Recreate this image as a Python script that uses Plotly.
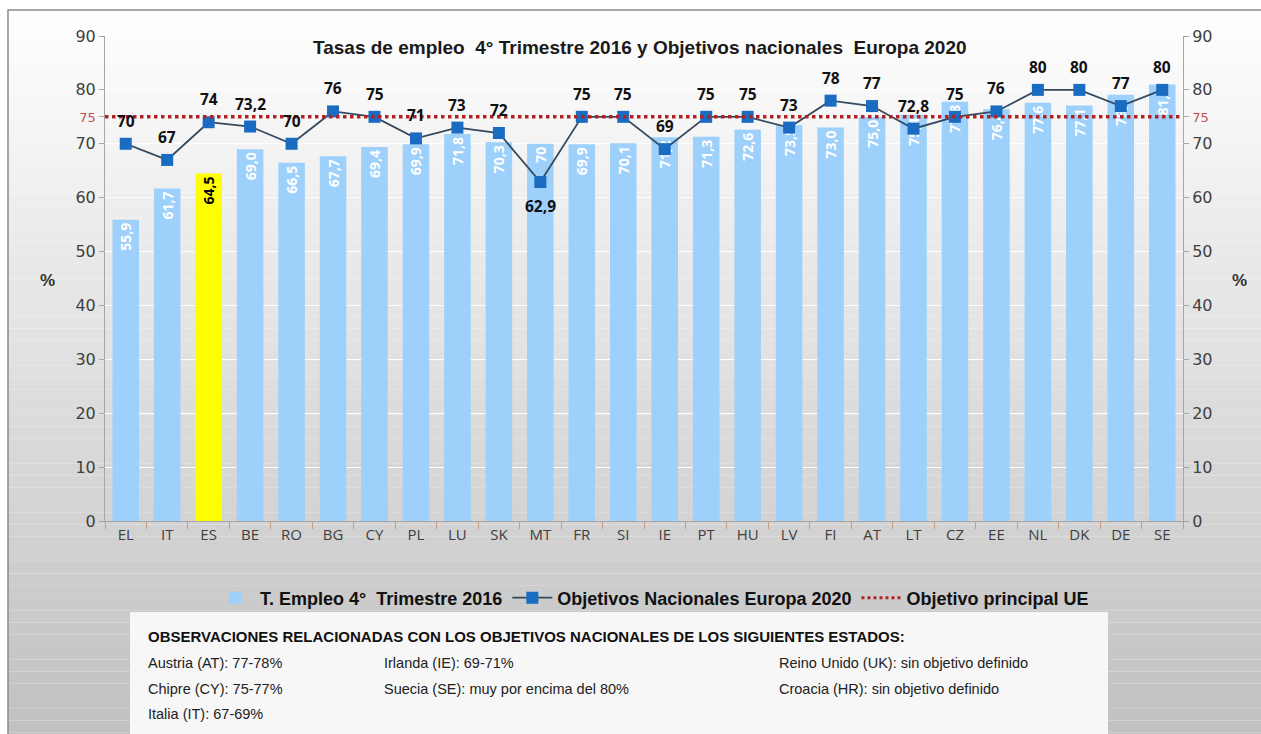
import plotly.graph_objects as go

# ---------------- data ----------------
countries = ["EL", "IT", "ES", "BE", "RO", "BG", "CY", "PL", "LU", "SK", "MT", "FR", "SI",
             "IE", "PT", "HU", "LV", "FI", "AT", "LT", "CZ", "EE", "NL", "DK", "DE", "SE"]
empleo_2016 = [55.9, 61.7, 64.5, 69.0, 66.5, 67.7, 69.4, 69.9, 71.8, 70.3, 70.0, 69.9, 70.1,
               71.2, 71.3, 72.6, 73.5, 73.0, 75.0, 75.4, 77.8, 76.4, 77.6, 77.1, 79.1, 81.0]
objetivos_2020 = [70, 67, 74, 73.2, 70, 76, 75, 71, 73, 72, 62.9, 75, 75,
                  69, 75, 75, 73, 78, 77, 72.8, 75, 76, 80, 80, 77, 80]
objetivo_ue = 75
highlight = "ES"
y_ticks = [0, 10, 20, 30, 40, 50, 60, 70, 75, 80, 90]

title = "Tasas de empleo  4° Trimestre 2016 y Objetivos nacionales  Europa 2020"
obs_header = "OBSERVACIONES RELACIONADAS CON LOS OBJETIVOS NACIONALES DE LOS SIGUIENTES ESTADOS:"
obs_col1 = ["Austria (AT): 77-78%", "Chipre (CY): 75-77%", "Italia (IT): 67-69%"]
obs_col2 = ["Irlanda (IE): 69-71%", "Suecia (SE): muy por encima del 80%"]
obs_col3 = ["Reino Unido (UK): sin objetivo definido", "Croacia (HR): sin objetivo definido"]

# ---------------- styling ----------------
W, H = 1261, 734
L, R, T, B = 105, 78, 36, 213
PW, PH = W - L - R, H - T - B
BAR_BLUE = "#9dd0fa"
YELLOW = "#ffff00"
RED = "#b22222"
TICK_GRAY = "#404040"
NARROW = "Liberation Sans Narrow, Arial Narrow, Liberation Sans, sans-serif"


def px_x(px):
    return (px - L) / PW


def px_y(py):
    return (H - B - py) / PH


def comma(v, fmt):
    return format(v, fmt).replace(".", ",")


bar_text = [comma(v, ".1f") for v in empleo_2016]
bar_text[countries.index("MT")] = comma(empleo_2016[countries.index("MT")], "g")
bar_colors = [YELLOW if c == highlight else BAR_BLUE for c in countries]
bar_text_colors = ["black" if c == highlight else "white" for c in countries]

fig = go.Figure()

fig.add_trace(go.Bar(
    x=countries, y=empleo_2016, name="<b>T. Empleo 4°  Trimestre 2016</b>",
    marker=dict(color=bar_colors, line=dict(width=0)),
    width=0.64,
    text=bar_text, texttemplate="<b>%{text}</b>",
    textposition="inside", insidetextanchor="end", textangle=-90,
    constraintext="none",
    textfont=dict(color=bar_text_colors, size=14, family="Open Sans, sans-serif"),
    hoverinfo="skip",
))

fig.add_trace(go.Scatter(
    x=countries, y=objetivos_2020, name="<b>Objetivos Nacionales Europa 2020</b>",
    mode="lines+markers",
    line=dict(color="#34495e", width=1.8),
    marker=dict(symbol="square", size=12, color="#1a6bc2"),
))

# legend-only entry for the EU target line
fig.add_trace(go.Scatter(
    x=[None], y=[None], name="<b>Objetivo principal UE</b>", mode="lines",
    line=dict(color=RED, width=3, dash="dot"),
))

# right axis (mirrors left)
fig.add_trace(go.Scatter(x=countries, y=objetivos_2020, yaxis="y2", mode="lines",
                         line=dict(width=0), showlegend=False, hoverinfo="skip", opacity=0))

annotations = []
# line labels
for c, v in zip(countries, objetivos_2020):
    below = v < 65
    annotations.append(dict(x=c, y=v, xref="x", yref="y", text=f"<b>{comma(v, 'g')}</b>",
                            showarrow=False, yshift=-24 if below else 23,
                            font=dict(size=15.5, color="#111111", family="Open Sans, sans-serif")))

# ---------------- background shapes ----------------
shapes = []
top_py, bot_py = 10, 745
n = 60
for i in range(n):
    y0p = top_py + (bot_py - top_py) * i / n
    y1p = top_py + (bot_py - top_py) * (i + 1) / n
    g = int(round(255 - 64 * (i + 0.5) / n))
    shapes.append(dict(type="rect", xref="paper", yref="paper", layer="below",
                       x0=px_x(8), x1=px_x(1275), y0=px_y(y1p), y1=px_y(y0p),
                       fillcolor=f"rgb({g},{g},{g})", line=dict(width=0)))
shapes.append(dict(type="rect", xref="paper", yref="paper", layer="below",
                   x0=px_x(8), x1=px_x(1275), y0=px_y(760), y1=px_y(10),
                   fillcolor="rgba(0,0,0,0)", line=dict(color="#8a8a8a", width=1.5)))
# observations box
shapes.append(dict(type="rect", xref="paper", yref="paper", layer="above",
                   x0=px_x(130), x1=px_x(1108), y0=px_y(760), y1=px_y(612),
                   fillcolor="#f7f7f7", line=dict(width=0)))
# EU target dotted line
shapes.append(dict(type="line", xref="paper", yref="y", layer="above",
                   x0=0, x1=1, y0=objetivo_ue, y1=objetivo_ue,
                   line=dict(color=RED, width=3.5, dash="dot")))

annotations += [
    dict(x=px_x(640), y=px_y(47), xref="paper", yref="paper", yanchor="middle",
         text=f"<b>{title}</b>", showarrow=False,
         font=dict(size=19, color="#1a1a1a", family="Liberation Sans, Arial, sans-serif")),
    dict(x=px_x(38), y=px_y(280), xref="paper", yref="paper", yanchor="middle",
         text="<b>%</b>", showarrow=False,
         font=dict(size=17, color="#333333", family="Liberation Sans, Arial, sans-serif")),
    dict(x=px_x(1249), y=px_y(280), xref="paper", yref="paper", yanchor="middle",
         text="<b>%</b>", showarrow=False,
         font=dict(size=17, color="#333333", family="Liberation Sans, Arial, sans-serif")),
    dict(x=px_x(146), y=px_y(636), xref="paper", yref="paper", xanchor="left", yanchor="middle",
         text=f"<b>{obs_header}</b>", showarrow=False,
         font=dict(size=15, color="#111111", family=NARROW)),
]
row_py = [663, 689, 714]
for col_px, col in [(146, obs_col1), (382, obs_col2), (777, obs_col3)]:
    for j, t in enumerate(col):
        annotations.append(dict(x=px_x(col_px), y=px_y(row_py[j]), xref="paper", yref="paper",
                                xanchor="left", yanchor="middle", text=t, showarrow=False,
                                font=dict(size=14.5, color="#222222", family=NARROW)))

tick_text = [f"<span style='color:#c0504d;font-size:13px'>{v}</span>" if v == objetivo_ue else str(v)
             for v in y_ticks]

yaxis_common = dict(
    range=[0, 90], tickvals=y_ticks, ticktext=tick_text,
    tickfont=dict(size=16, color=TICK_GRAY, family="DejaVu Sans, sans-serif"),
    showline=True, linecolor="#a6a6a6", linewidth=1,
    ticks="outside", ticklen=5, tickcolor="#a6a6a6",
    zeroline=False, fixedrange=True,
)

fig.update_layout(
    width=W, height=H,
    margin=dict(l=L, r=R, t=T, b=B, autoexpand=False),
    paper_bgcolor="white", plot_bgcolor="rgba(0,0,0,0)",
    shapes=shapes, annotations=annotations,
    barmode="overlay",
    showlegend=True,
    legend=dict(orientation="h", x=px_x(652), xanchor="center", y=px_y(598), yanchor="middle",
                bgcolor="rgba(0,0,0,0)", font=dict(size=18, color="#111111", family=NARROW),
                itemwidth=40, tracegroupgap=0),
    xaxis=dict(type="category", categoryorder="array", categoryarray=countries,
               range=[-0.5, len(countries) - 0.5],
               tickfont=dict(size=15, color=TICK_GRAY, family="Open Sans, sans-serif"),
               showline=True, linecolor="#a6a6a6", linewidth=1,
               ticks="outside", tickson="boundaries", ticklen=7, tickcolor="#c89a80",
               showgrid=False, fixedrange=True),
    yaxis=dict(**yaxis_common, side="left", showgrid=True, gridcolor="white", gridwidth=1),
    yaxis2=dict(**yaxis_common, side="right", overlaying="y", showgrid=False),
)

fig.write_html(
    "out.html",
    config={"displayModeBar": False},
    post_script="document.body.style.margin='0';document.body.style.overflow='hidden';",
)
